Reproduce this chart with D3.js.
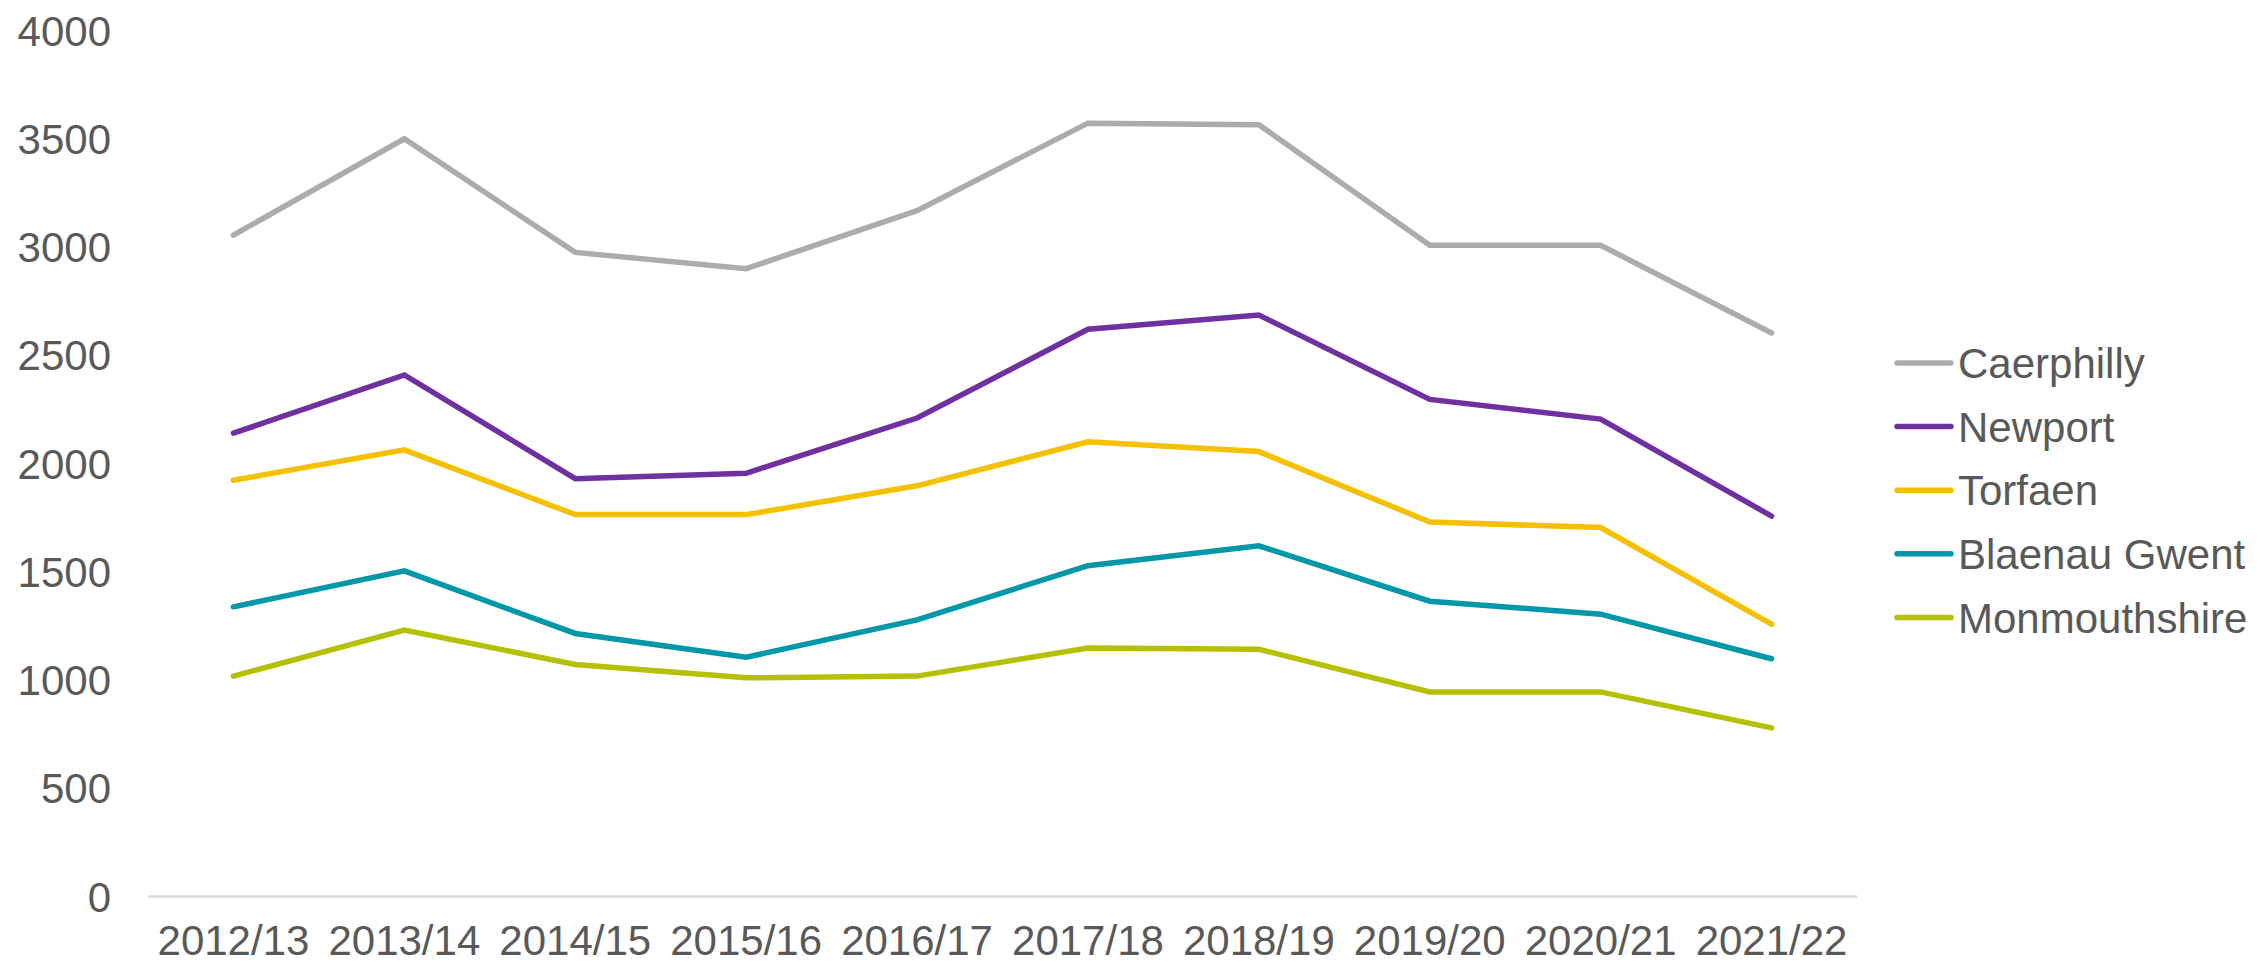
<!DOCTYPE html>
<html><head><meta charset="utf-8">
<script src="https://cdn.jsdelivr.net/npm/d3@7"></script>
<style>body{margin:0;background:#fff}svg{display:block}</style>
</head><body>
<script>
const categories = ["2012/13","2013/14","2014/15","2015/16","2016/17","2017/18","2018/19","2019/20","2020/21","2021/22"];
const seriesNames = ["Caerphilly","Newport","Torfaen","Blaenau Gwent","Monmouthshire"];
const caerphilly   = [3055,3500,2975,2900,3168,3572,3565,3008,3008,2603];
const newport      = [2140,2409,1930,1955,2210,2620,2686,2296,2205,1757];
const torfaen      = [1923,2063,1764,1764,1897,2100,2055,1730,1704,1258];
const blaenauGwent = [1338,1504,1215,1105,1278,1528,1620,1364,1304,1098];
const monmouthshire= [1018,1231,1072,1010,1018,1148,1142,945,945,779];
const seriesValues = [caerphilly,newport,torfaen,blaenauGwent,monmouthshire];
const colors = ["#AEABAB","#7030A0","#F5C000","#0098A8","#B5C000"];
const yTicks = [0,500,1000,1500,2000,2500,3000,3500,4000];

const W=2257,H=965;
const svg=d3.select("body").append("svg").attr("width",W).attr("height",H);
const x=d3.scaleBand().domain(categories).range([148,1857]);
const y=d3.scaleLinear().domain([0,4000]).range([896.5,30.5]);
const font="'Liberation Sans', Arial, sans-serif";
const txt="#595959";

// x axis line
svg.append("line").attr("x1",148).attr("x2",1857).attr("y1",y(0)).attr("y2",y(0))
  .attr("stroke","#D9D9D9").attr("stroke-width",2.5);

// y tick labels
svg.append("g").selectAll("text").data(yTicks).join("text")
  .attr("x",111).attr("y",d=>y(d)).attr("dy","0.36em").attr("text-anchor","end")
  .attr("font-family",font).attr("font-size",42).attr("fill",txt).text(d=>d);

// x labels
svg.append("g").selectAll("text").data(categories).join("text")
  .attr("x",d=>x(d)+x.bandwidth()/2).attr("y",955).attr("text-anchor","middle")
  .attr("font-family",font).attr("font-size",42).attr("fill",txt).text(d=>d);

const line=d3.line().x((d,i)=>x(categories[i])+x.bandwidth()/2).y(d=>y(d));
svg.append("g").selectAll("path").data(seriesValues).join("path")
  .attr("d",line).attr("fill","none").attr("stroke",(d,i)=>colors[i])
  .attr("stroke-width",5.5).attr("stroke-linecap","round").attr("stroke-linejoin","miter");

// legend
const lg=svg.append("g").selectAll("g").data(seriesNames).join("g")
  .attr("transform",(d,i)=>`translate(0,${363+i*63.6})`);
lg.append("line").attr("x1",1897).attr("x2",1951).attr("y1",0).attr("y2",0)
  .attr("stroke",(d,i)=>colors[i]).attr("stroke-width",5.5).attr("stroke-linecap","round");
lg.append("text").attr("x",1958).attr("y",0).attr("dy","0.36em")
  .attr("font-family",font).attr("font-size",42).attr("fill",txt).text(d=>d);
</script>
</body></html>
